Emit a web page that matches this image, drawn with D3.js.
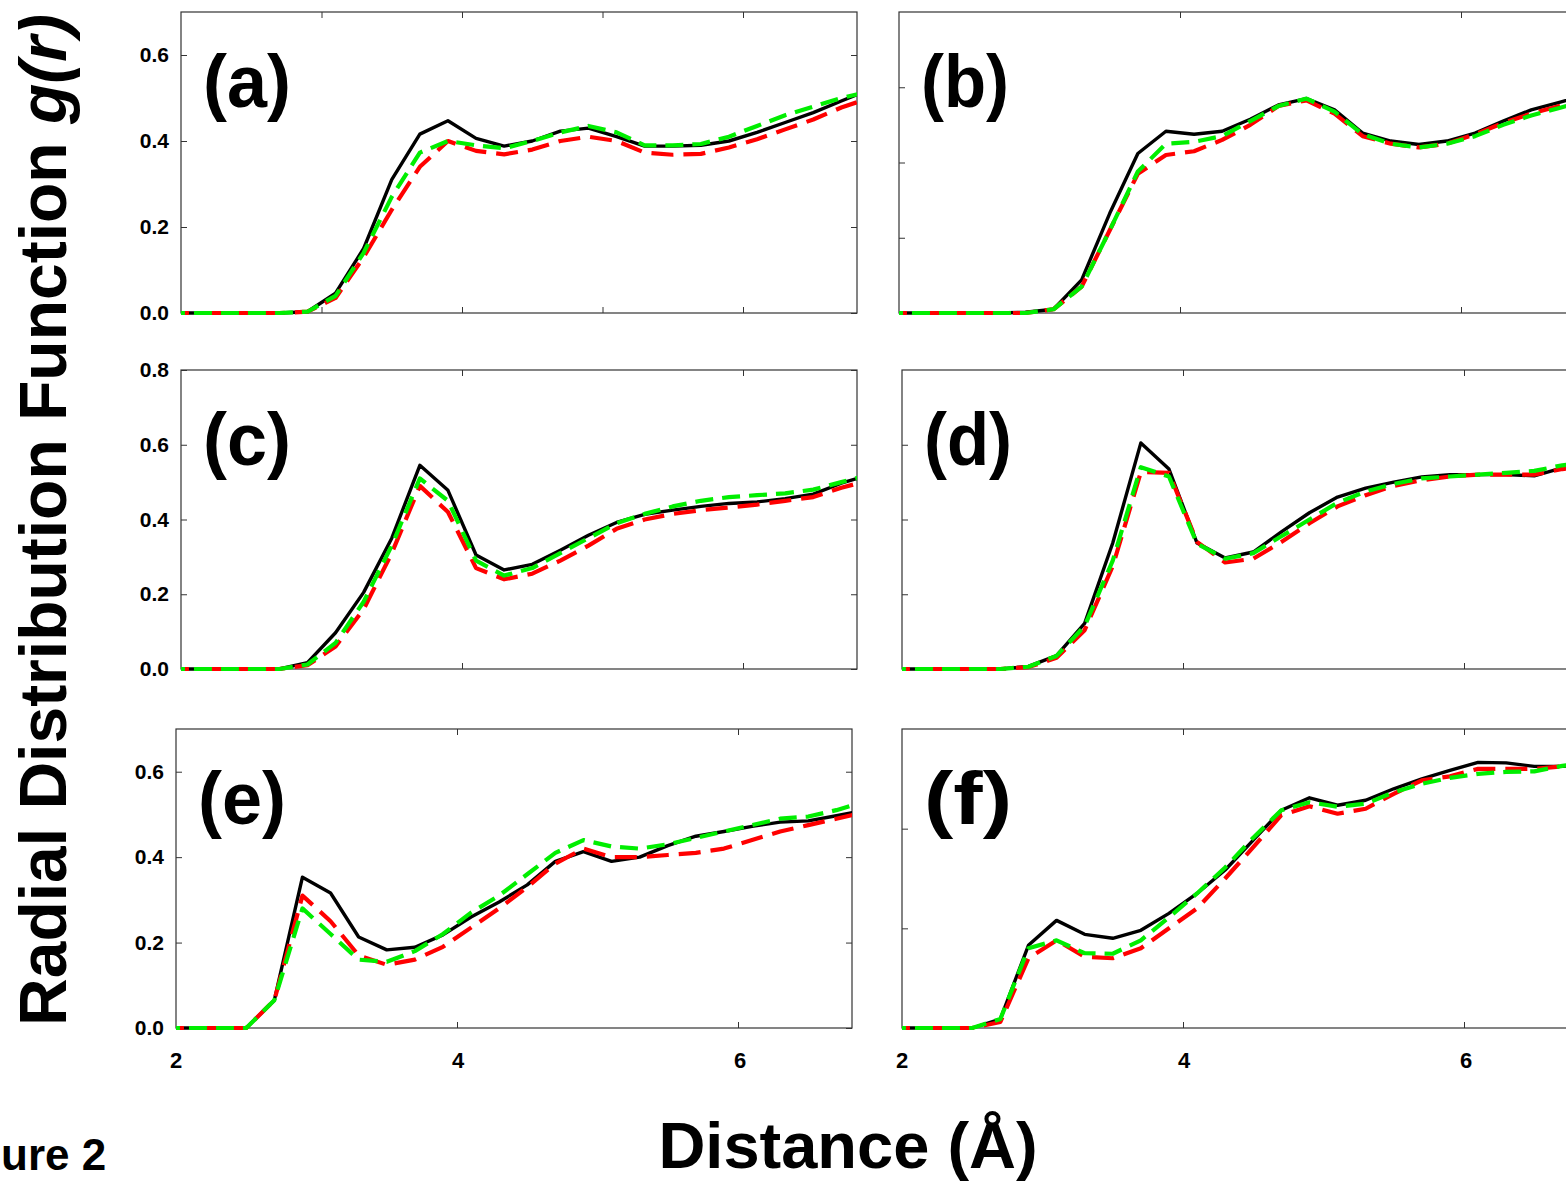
<!DOCTYPE html>
<html>
<head>
<meta charset="utf-8">
<script src="https://cdn.jsdelivr.net/npm/d3@7"></script>
<style>
  body { margin: 0; background: #fff; }
  text { font-family: Arial, "Liberation Sans", sans-serif; font-weight: bold; }
</style>
</head>
<body>
<div class="canvas"></div>
<script>
// DATA: distance grid (Å) and g(r) for each panel
const distances = [1.9,2.1,2.3,2.5,2.7,2.9,3.1,3.3,3.5,3.7,3.9,4.1,4.3,4.5,4.7,4.9,5.1,5.3,5.5,5.7,5.9,6.1,6.3,6.5,6.7,6.9];

const aBlack = [0,0,0,0,0,0.003,0.046,0.15,0.31,0.416,0.447,0.406,0.388,0.40,0.423,0.43,0.41,0.388,0.388,0.39,0.40,0.42,0.443,0.466,0.493,0.52];
const aRed   = [0,0,0,0,0,0.003,0.035,0.13,0.24,0.34,0.40,0.377,0.369,0.38,0.40,0.41,0.40,0.373,0.368,0.37,0.385,0.404,0.427,0.45,0.478,0.50];
const aGreen = [0,0,0,0,0,0.003,0.04,0.14,0.27,0.373,0.40,0.39,0.383,0.40,0.42,0.435,0.42,0.39,0.39,0.393,0.41,0.435,0.46,0.48,0.50,0.515];

const bBlack = [0,0,0,0,0,0.002,0.01,0.088,0.265,0.424,0.483,0.475,0.483,0.515,0.553,0.57,0.54,0.478,0.457,0.448,0.457,0.478,0.51,0.54,0.56,0.58];
const bRed   = [0,0,0,0,0,0,0.01,0.07,0.22,0.37,0.42,0.43,0.46,0.50,0.55,0.565,0.53,0.47,0.45,0.44,0.45,0.475,0.505,0.53,0.55,0.57];
const bGreen = [0,0,0,0,0,0,0.01,0.07,0.22,0.376,0.45,0.455,0.47,0.51,0.55,0.57,0.535,0.475,0.45,0.44,0.45,0.47,0.50,0.525,0.545,0.565];

const cBlack = [0,0,0,0,0,0.017,0.097,0.205,0.35,0.545,0.478,0.305,0.265,0.28,0.318,0.358,0.392,0.414,0.425,0.435,0.443,0.447,0.456,0.468,0.497,0.52];
const cRed   = [0,0,0,0,0,0.01,0.06,0.16,0.31,0.49,0.42,0.27,0.24,0.255,0.29,0.33,0.375,0.40,0.415,0.425,0.432,0.44,0.45,0.46,0.485,0.505];
const cGreen = [0,0,0,0,0,0.012,0.07,0.18,0.33,0.51,0.45,0.29,0.25,0.27,0.31,0.35,0.39,0.415,0.435,0.45,0.46,0.465,0.47,0.48,0.50,0.52];

const dBlack = [0,0,0,0,0,0.007,0.036,0.122,0.337,0.605,0.535,0.337,0.297,0.313,0.367,0.418,0.46,0.484,0.50,0.514,0.52,0.52,0.52,0.517,0.538,0.55];
const dRed   = [0,0,0,0,0,0.005,0.03,0.104,0.275,0.527,0.525,0.34,0.285,0.295,0.34,0.39,0.435,0.465,0.49,0.505,0.515,0.52,0.52,0.52,0.535,0.545];
const dGreen = [0,0,0,0,0,0.006,0.035,0.115,0.29,0.54,0.515,0.335,0.295,0.31,0.355,0.40,0.445,0.475,0.495,0.51,0.515,0.52,0.525,0.53,0.545,0.555];

const eBlack = [0,0,0,0,0.065,0.353,0.316,0.213,0.183,0.189,0.218,0.26,0.295,0.335,0.39,0.413,0.39,0.40,0.427,0.449,0.46,0.472,0.482,0.485,0.497,0.51];
const eRed   = [0,0,0,0,0.065,0.31,0.25,0.17,0.148,0.16,0.19,0.235,0.28,0.33,0.385,0.42,0.40,0.40,0.405,0.41,0.42,0.44,0.46,0.475,0.49,0.505];
const eGreen = [0,0,0,0,0.065,0.28,0.22,0.16,0.155,0.18,0.22,0.27,0.31,0.36,0.41,0.44,0.425,0.42,0.43,0.445,0.46,0.475,0.49,0.495,0.51,0.53];

const fBlack = [0,0,0,0,0.018,0.166,0.216,0.188,0.18,0.196,0.23,0.27,0.317,0.377,0.437,0.462,0.447,0.457,0.48,0.50,0.517,0.533,0.532,0.525,0.525,0.53];
const fRed   = [0,0,0,0,0.012,0.14,0.176,0.143,0.14,0.16,0.20,0.24,0.30,0.363,0.427,0.445,0.43,0.44,0.47,0.497,0.505,0.52,0.52,0.52,0.525,0.53];
const fGreen = [0,0,0,0,0.018,0.16,0.176,0.15,0.149,0.176,0.222,0.27,0.322,0.382,0.437,0.453,0.444,0.45,0.473,0.49,0.502,0.51,0.514,0.515,0.526,0.535];

const panelLabels = ["(a)","(b)","(c)","(d)","(e)","(f)"];
const xTickLabels = [2,4,6];

// Layout
const panels = [
  {left:181, top:12,  w:676, h:301, ymax:0.7, xticks:[3,4,5,6], yticks:[0,0.2,0.4,0.6], labeled:true,  xlab:false, series:[aBlack,aRed,aGreen]},
  {left:899, top:12,  w:676, h:301, ymax:0.8, xticks:[4,6], yticks:[0.2,0.4,0.6], labeled:false, xlab:false, series:[bBlack,bRed,bGreen]},
  {left:181, top:370, w:676, h:299, ymax:0.8, xticks:[4,6], yticks:[0,0.2,0.4,0.6,0.8], labeled:true, xlab:false, series:[cBlack,cRed,cGreen]},
  {left:902, top:370, w:676, h:299, ymax:0.8, xticks:[4,6], yticks:[0.2,0.4,0.6], labeled:false, xlab:false, series:[dBlack,dRed,dGreen]},
  {left:176, top:729, w:676, h:299, ymax:0.7, xticks:[4,6], yticks:[0,0.2,0.4,0.6], labeled:true, xlab:true, series:[eBlack,eRed,eGreen]},
  {left:902, top:729, w:676, h:299, ymax:0.6, xticks:[4,6], yticks:[0.2,0.4], labeled:false, xlab:true, series:[fBlack,fRed,fGreen]}
];

const styles = [
  {color:"#000000", width:3.4, dash:null},
  {color:"#ff0000", width:4.2, dash:"22,10"},
  {color:"#00ee00", width:4.2, dash:"18,9"}
];

const svg = d3.select(".canvas").append("svg")
  .attr("width", 1566).attr("height", 1181);

panels.forEach((p, i) => {
  const x = d3.scaleLinear().domain([2, 2 + p.w / 140.5]).range([0, p.w]);
  const y = d3.scaleLinear().domain([0, p.ymax]).range([p.h, 0]);

  const g = svg.append("g").attr("transform", `translate(${p.left},${p.top})`);

  g.append("clipPath").attr("id", "clip" + i)
    .append("rect").attr("width", p.w).attr("height", p.h + 4).attr("y", -2);

  // inward ticks on all four sides
  const tk = 6;
  g.append("g").call(d3.axisBottom(x).tickValues(p.xticks).tickSize(-tk).tickFormat(""))
    .attr("transform", `translate(0,${p.h})`);
  g.append("g").call(d3.axisTop(x).tickValues(p.xticks).tickSize(-tk).tickFormat(""));
  g.append("g").call(d3.axisLeft(y).tickValues(p.yticks).tickSize(-tk).tickFormat(""));
  g.append("g").call(d3.axisRight(y).tickValues(p.yticks).tickSize(-tk).tickFormat(""))
    .attr("transform", `translate(${p.w},0)`);
  g.selectAll(".domain").remove();
  g.selectAll(".tick line").attr("stroke", "#333").attr("stroke-width", 1);

  g.append("rect").attr("width", p.w).attr("height", p.h)
    .attr("fill", "none").attr("stroke", "#333").attr("stroke-width", 1.2);

  if (p.labeled) {
    g.selectAll(".ylab").data(p.yticks).enter().append("text")
      .attr("x", -12).attr("y", d => y(d) + 7)
      .attr("text-anchor", "end").attr("font-size", 21)
      .text(d => d.toFixed(1));
  }
  if (p.xlab) {
    g.selectAll(".xlab").data(xTickLabels).enter().append("text")
      .attr("x", d => (d - 2) * 141).attr("y", p.h + 40)
      .attr("text-anchor", "middle").attr("font-size", 22)
      .text(d => d);
  }

  const line = d3.line().x((d, j) => x(distances[j])).y(d => y(d));
  const plot = g.append("g").attr("clip-path", `url(#clip${i})`);
  p.series.forEach((s, k) => {
    plot.append("path").datum(s)
      .attr("d", line)
      .attr("fill", "none")
      .attr("stroke", styles[k].color)
      .attr("stroke-width", styles[k].width)
      .attr("stroke-dasharray", styles[k].dash)
      .attr("stroke-linejoin", "round");
  });

  g.append("text").attr("x", 22).attr("y", 95)
    .attr("font-size", 74).attr("textLength", 88).attr("lengthAdjust", "spacingAndGlyphs")
    .text(panelLabels[i]);
});

// Axis titles
const yt = svg.append("text")
  .attr("transform", "translate(66,520) rotate(-90)")
  .attr("text-anchor", "middle").attr("font-size", 66);
yt.append("tspan").text("Radial Distribution Function ");
yt.append("tspan").attr("font-style", "italic").text("g(r)");

svg.append("text").attr("x", 848).attr("y", 1168)
  .attr("text-anchor", "middle").attr("font-size", 65)
  .text("Distance (Å)");

svg.append("text").attr("x", 1).attr("y", 1170)
  .attr("font-size", 44)
  .text("ure 2");
</script>
</body>
</html>
